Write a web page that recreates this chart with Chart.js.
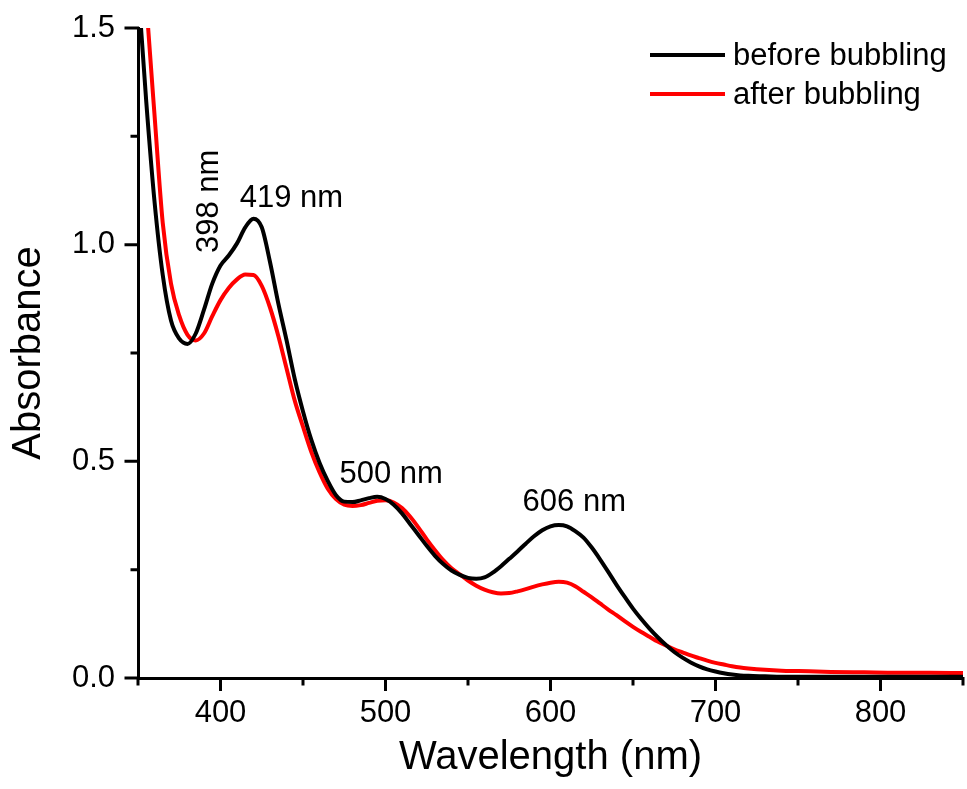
<!DOCTYPE html>
<html>
<head>
<meta charset="utf-8">
<script src="https://cdn.jsdelivr.net/npm/chart.js@4.4.1/dist/chart.umd.min.js"></script>
<style>
  body { margin: 0; background: #fff; }
  #spectrum { display: block; }
</style>
</head>
<body>
<canvas id="spectrum" width="967" height="789"></canvas>
<script>
// wavelength grid (nm)
const wavelength = [
  350, 355, 360, 365, 370, 375, 380, 385, 390, 395,
  400, 405, 410, 415, 420, 425, 430, 435, 440, 445,
  450, 455, 460, 465, 470, 475, 480, 485, 490, 495,
  500, 505, 510, 515, 520, 525, 530, 535, 540, 545,
  550, 555, 560, 565, 570, 575, 580, 585, 590, 595,
  600, 605, 610, 615, 620, 625, 630, 635, 640, 645,
  650, 655, 660, 665, 670, 675, 680, 685, 690, 695,
  700, 705, 710, 715, 720, 730, 740, 750, 770, 790,
  810, 830, 850
];

// absorbance, before bubbling
const before = [
  1.60, 1.33, 1.10, 0.93, 0.825, 0.783, 0.771, 0.795, 0.85, 0.91,
  0.952, 0.975, 1.003, 1.04, 1.06, 1.04, 0.96, 0.865, 0.78, 0.69,
  0.615, 0.55, 0.497, 0.455, 0.422, 0.407, 0.406, 0.41, 0.415, 0.418,
  0.413, 0.400, 0.38, 0.355, 0.33, 0.305, 0.282, 0.263, 0.248, 0.238,
  0.231, 0.229, 0.232, 0.243, 0.258, 0.275, 0.292, 0.31, 0.327, 0.341,
  0.35, 0.353, 0.35, 0.339, 0.324, 0.301, 0.274, 0.245, 0.215, 0.187,
  0.16, 0.136, 0.114, 0.094, 0.076, 0.06, 0.047, 0.036, 0.027, 0.02,
  0.015, 0.011, 0.008, 0.006, 0.005, 0.004, 0.003, 0.003, 0.003, 0.003,
  0.003, 0.003, 0.003
];

// absorbance, after bubbling
const after = [
  1.85, 1.56, 1.30, 1.05, 0.91, 0.836, 0.792, 0.779, 0.795, 0.835,
  0.872, 0.90, 0.92, 0.931, 0.93, 0.905, 0.855, 0.79, 0.715, 0.64,
  0.58, 0.522, 0.475, 0.437, 0.413, 0.40, 0.397, 0.399, 0.404, 0.409,
  0.41, 0.405, 0.392, 0.372, 0.347, 0.32, 0.295, 0.272, 0.253, 0.239,
  0.225, 0.213, 0.204, 0.198, 0.195, 0.196, 0.2, 0.205, 0.211, 0.216,
  0.22, 0.222, 0.22, 0.212, 0.199, 0.186, 0.172, 0.158, 0.145, 0.131,
  0.118, 0.106, 0.095, 0.084, 0.075, 0.066, 0.059, 0.052, 0.046, 0.04,
  0.035, 0.031, 0.027, 0.024, 0.022, 0.019, 0.017, 0.016, 0.014, 0.013,
  0.012, 0.012, 0.0115
];

const seriesNames = ['before bubbling', 'after bubbling'];
const seriesColors = ['#000000', '#ff0000'];

// peak annotations: text, wavelength, absorbance, rotation (deg)
const peakText = ['398 nm', '419 nm', '500 nm', '606 nm'];
const peakWl = [398.2, 443, 503.4, 614.4];
const peakAbs = [1.10, 1.088, 0.449, 0.386];
const peakRot = [-90, 0, 0, 0];

const FONT = "'Liberation Sans', Arial, sans-serif";
Chart.defaults.font.family = FONT;
Chart.defaults.color = '#000';

function toPoints(ys) {
  return ys.map((v, i) => ({ x: wavelength[i], y: v }));
}

// Origin-style tick marks: long majors, short minors, pointing outward
const axisTicks = {
  id: 'axisTicks',
  afterDraw(chart) {
    const { ctx, chartArea, scales: { x, y } } = chart;
    ctx.save();
    ctx.strokeStyle = '#000';
    ctx.lineWidth = 3;
    ctx.beginPath();
    x.ticks.forEach(t => {
      const px = x.getPixelForValue(t.value);
      const len = t.value % 100 === 0 ? 13 : 7.5;
      ctx.moveTo(px, chartArea.bottom - 1);
      ctx.lineTo(px, chartArea.bottom + len);
    });
    y.ticks.forEach(t => {
      const py = y.getPixelForValue(t.value);
      const major = Math.abs(t.value * 2 - Math.round(t.value * 2)) < 1e-6;
      ctx.moveTo(chartArea.left + 1, py);
      ctx.lineTo(chartArea.left - (major ? 13.5 : 7.5), py);
    });
    ctx.stroke();
    ctx.restore();
  }
};

const peakNotes = {
  id: 'peakNotes',
  afterDraw(chart) {
    const { ctx, scales: { x, y } } = chart;
    ctx.save();
    ctx.fillStyle = '#000';
    ctx.font = '31px ' + FONT;
    ctx.textAlign = 'center';
    ctx.textBaseline = 'alphabetic';
    peakText.forEach((txt, i) => {
      ctx.save();
      ctx.translate(x.getPixelForValue(peakWl[i]), y.getPixelForValue(peakAbs[i]));
      ctx.rotate(peakRot[i] * Math.PI / 180);
      ctx.fillText(txt, 0, 0);
      ctx.restore();
    });
    ctx.restore();
  }
};

// legend inside the plot, upper right
const insideLegend = {
  id: 'insideLegend',
  afterDraw(chart) {
    const { ctx } = chart;
    ctx.save();
    ctx.font = '31px ' + FONT;
    ctx.textAlign = 'left';
    ctx.textBaseline = 'alphabetic';
    chart.data.datasets.forEach((ds, i) => {
      const ly = 55 + i * 39;
      ctx.strokeStyle = ds.borderColor;
      ctx.lineWidth = 4;
      ctx.beginPath();
      ctx.moveTo(650, ly);
      ctx.lineTo(725, ly);
      ctx.stroke();
      ctx.fillStyle = '#000';
      ctx.fillText(ds.label, 733, ly + 10);
    });
    ctx.restore();
  }
};

new Chart(document.getElementById('spectrum'), {
  type: 'line',
  data: {
    datasets: [
      {
        label: seriesNames[0],
        data: toPoints(before),
        borderColor: seriesColors[0],
        backgroundColor: seriesColors[0],
        borderWidth: 4,
        pointRadius: 0,
        cubicInterpolationMode: 'monotone',
        clip: { left: 0, top: 0, right: 0, bottom: 4 }
      },
      {
        label: seriesNames[1],
        data: toPoints(after),
        borderColor: seriesColors[1],
        backgroundColor: seriesColors[1],
        borderWidth: 4,
        pointRadius: 0,
        cubicInterpolationMode: 'monotone',
        clip: { left: 0, top: 0, right: 0, bottom: 4 }
      }
    ]
  },
  options: {
    responsive: false,
    animation: false,
    devicePixelRatio: 1,
    layout: { padding: { top: 28, right: 4, left: 0, bottom: 0 } },
    plugins: {
      legend: { display: false },
      tooltip: { enabled: false }
    },
    scales: {
      x: {
        type: 'linear',
        min: 350,
        max: 850,
        afterFit: s => { s.height = 111; s.paddingLeft = 0; s.paddingRight = 0; },
        border: { display: true, width: 3, color: '#000' },
        grid: { display: false, drawTicks: false },
        ticks: {
          stepSize: 50,
          autoSkip: false,
          maxRotation: 0,
          padding: 17,
          font: { size: 31 },
          callback: v => (v % 100 === 0 ? String(v) : '')
        },
        title: {
          display: true,
          text: 'Wavelength (nm)',
          font: { size: 40 },
          padding: { top: 0, bottom: 7 }
        }
      },
      y: {
        min: 0,
        max: 1.5,
        afterFit: s => { s.width = 138; s.paddingTop = 0; s.paddingBottom = 0; },
        border: { display: true, width: 3, color: '#000' },
        grid: { display: false, drawTicks: false },
        ticks: {
          stepSize: 0.25,
          autoSkip: false,
          padding: 23,
          font: { size: 31 },
          callback: v => (Math.abs(v * 2 - Math.round(v * 2)) < 1e-6 ? v.toFixed(1) : '')
        },
        title: {
          display: true,
          text: 'Absorbance',
          font: { size: 40 },
          padding: { top: 5, bottom: 0 }
        }
      }
    }
  },
  plugins: [axisTicks, peakNotes, insideLegend]
});
</script>
</body>
</html>
